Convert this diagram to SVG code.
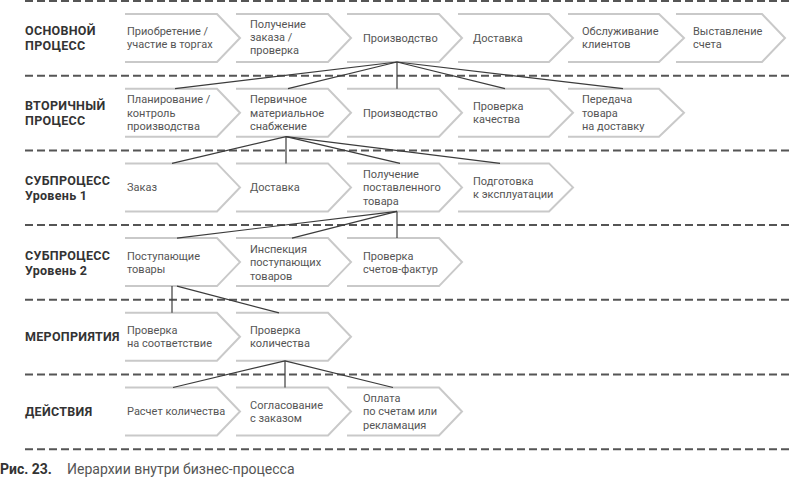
<svg xmlns="http://www.w3.org/2000/svg" width="790" height="483" viewBox="0 0 790 483">
<style>
.bg{fill:#ffffff}
.sep{stroke:#555555;stroke-width:2;stroke-dasharray:8 4;fill:none}
.chev{fill:none;stroke:#c9c9c9;stroke-width:2;stroke-linejoin:miter}
.t{font-family:Roboto,"Liberation Sans",sans-serif;font-size:11px;fill:#555555}
.lbl{font-family:Roboto,"Liberation Sans",sans-serif;font-size:12.5px;font-weight:bold;fill:#333333;letter-spacing:0.3px}
.con line{stroke:#3c3c3c;stroke-width:1.2}
.cap{font-family:Roboto,"Liberation Sans",sans-serif;font-size:14px;fill:#555555}
.capb{font-family:Roboto,"Liberation Sans",sans-serif;font-size:14px;font-weight:bold;fill:#333333}
</style>
<rect class="bg" x="0" y="0" width="790" height="483"/>
<g id="separators">
<line class="sep" x1="25" y1="1" x2="790" y2="1"/>
<line class="sep" x1="25" y1="75.7" x2="790" y2="75.7"/>
<line class="sep" x1="25" y1="150.4" x2="790" y2="150.4"/>
<line class="sep" x1="25" y1="225.1" x2="790" y2="225.1"/>
<line class="sep" x1="25" y1="299.8" x2="790" y2="299.8"/>
<line class="sep" x1="25" y1="374.5" x2="790" y2="374.5"/>
<line class="sep" x1="25" y1="449.2" x2="790" y2="449.2"/>
</g>
<g id="row-labels">
<text class="lbl" x="25" y="35">ОСНОВНОЙ</text>
<text class="lbl" x="25" y="50">ПРОЦЕСС</text>
<text class="lbl" x="25" y="110">ВТОРИЧНЫЙ</text>
<text class="lbl" x="25" y="125">ПРОЦЕСС</text>
<text class="lbl" x="25" y="185">СУБПРОЦЕСС</text>
<text class="lbl" x="25" y="200">Уровень 1</text>
<text class="lbl" x="25" y="260">СУБПРОЦЕСС</text>
<text class="lbl" x="25" y="275">Уровень 2</text>
<text class="lbl" x="25" y="341">МЕРОПРИЯТИЯ</text>
<text class="lbl" x="25" y="416">ДЕЙСТВИЯ</text>
</g>
<!-- Row 1: top 14, bottom 62, mid 38 -->
<g id="n1-1"><path class="chev" d="M125 14H217L240 38L217 62H125"/><text class="t" x="127" y="35">Приобретение /</text><text class="t" x="127" y="48">участие в торгах</text></g>
<g id="n1-2"><path class="chev" d="M236 14H328L351 38L328 62H236"/><text class="t" x="250" y="28">Получение</text><text class="t" x="250" y="41">заказа /</text><text class="t" x="250" y="54">проверка</text></g>
<g id="n1-3"><path class="chev" d="M347 14H439L462 38L439 62H347"/><text class="t" x="363" y="41.5">Производство</text></g>
<g id="n1-4"><path class="chev" d="M458 14H549L573 38L549 62H458"/><text class="t" x="473" y="41.5">Доставка</text></g>
<g id="n1-5"><path class="chev" d="M568 14H659L684 38L659 62H568"/><text class="t" x="582" y="35">Обслуживание</text><text class="t" x="582" y="48">клиентов</text></g>
<g id="n1-6"><path class="chev" d="M676 14H762L785 38L762 62H676"/><text class="t" x="693" y="35">Выставление</text><text class="t" x="693" y="48">счета</text></g>
<!-- Row 2: top 88.7, bottom 136.7, mid 112.7 -->
<g id="n2-1"><path class="chev" d="M125 88.7H217L240 112.7L217 136.7H125"/><text class="t" x="127" y="103">Планирование /</text><text class="t" x="127" y="116.5">контроль</text><text class="t" x="127" y="130">производства</text></g>
<g id="n2-2"><path class="chev" d="M236 88.7H328L351 112.7L328 136.7H236"/><text class="t" x="250" y="103">Первичное</text><text class="t" x="250" y="116.5">материальное</text><text class="t" x="250" y="130">снабжение</text></g>
<g id="n2-3"><path class="chev" d="M347 88.7H439L462 112.7L439 136.7H347"/><text class="t" x="363" y="116.5">Производство</text></g>
<g id="n2-4"><path class="chev" d="M458 88.7H549L573 112.7L549 136.7H458"/><text class="t" x="473" y="110">Проверка</text><text class="t" x="473" y="123">качества</text></g>
<g id="n2-5"><path class="chev" d="M568 88.7H659L684 112.7L659 136.7H568"/><text class="t" x="582" y="103">Передача</text><text class="t" x="582" y="116.5">товара</text><text class="t" x="582" y="130">на доставку</text></g>
<!-- Row 3: top 163.4, bottom 211.4, mid 187.4 -->
<g id="n3-1"><path class="chev" d="M125 163.4H217L240 187.4L217 211.4H125"/><text class="t" x="127" y="191">Заказ</text></g>
<g id="n3-2"><path class="chev" d="M236 163.4H328L351 187.4L328 211.4H236"/><text class="t" x="250" y="191">Доставка</text></g>
<g id="n3-3"><path class="chev" d="M347 163.4H439L462 187.4L439 211.4H347"/><text class="t" x="363" y="177.5">Получение</text><text class="t" x="363" y="191">поставленного</text><text class="t" x="363" y="204.5">товара</text></g>
<g id="n3-4"><path class="chev" d="M458 163.4H549L573 187.4L549 211.4H458"/><text class="t" x="473" y="184.5">Подготовка</text><text class="t" x="473" y="197.5">к эксплуатации</text></g>
<!-- Row 4: top 238.1, bottom 286.1, mid 262.1 -->
<g id="n4-1"><path class="chev" d="M125 238.1H217L240 262.1L217 286.1H125"/><text class="t" x="127" y="259.5">Поступающие</text><text class="t" x="127" y="272.5">товары</text></g>
<g id="n4-2"><path class="chev" d="M236 238.1H328L351 262.1L328 286.1H236"/><text class="t" x="250" y="252.5">Инспекция</text><text class="t" x="250" y="266">поступающих</text><text class="t" x="250" y="279.5">товаров</text></g>
<g id="n4-3"><path class="chev" d="M347 238.1H439L462 262.1L439 286.1H347"/><text class="t" x="363" y="259.5">Проверка</text><text class="t" x="363" y="272.5">счетов-фактур</text></g>
<!-- Row 5: top 312.8, bottom 360.8, mid 336.8 -->
<g id="n5-1"><path class="chev" d="M125 312.8H217L240 336.8L217 360.8H125"/><text class="t" x="127" y="334">Проверка</text><text class="t" x="127" y="347">на соответствие</text></g>
<g id="n5-2"><path class="chev" d="M236 312.8H328L351 336.8L328 360.8H236"/><text class="t" x="250" y="334">Проверка</text><text class="t" x="250" y="347">количества</text></g>
<!-- Row 6: top 387.5, bottom 435.5, mid 411.5 -->
<g id="n6-1"><path class="chev" d="M125 387.5H217L240 411.5L217 435.5H125"/><text class="t" x="127" y="415">Расчет количества</text></g>
<g id="n6-2"><path class="chev" d="M236 387.5H328L351 411.5L328 435.5H236"/><text class="t" x="250" y="408.5">Согласование</text><text class="t" x="250" y="421.5">с заказом</text></g>
<g id="n6-3"><path class="chev" d="M347 387.5H439L462 411.5L439 435.5H347"/><text class="t" x="363" y="401.5">Оплата</text><text class="t" x="363" y="415">по счетам или</text><text class="t" x="363" y="428.5">рекламация</text></g>
<g id="connectors" class="con">
<line x1="397" y1="62" x2="175" y2="88.7"/>
<line x1="397" y1="62" x2="288" y2="88.7"/>
<line x1="397" y1="62" x2="397" y2="88.7"/>
<line x1="397" y1="62" x2="505" y2="88.7"/>
<line x1="397" y1="62" x2="623" y2="88.7"/>
<line x1="286" y1="136.7" x2="172" y2="163.4"/>
<line x1="286" y1="136.7" x2="286" y2="163.4"/>
<line x1="286" y1="136.7" x2="400" y2="163.4"/>
<line x1="286" y1="136.7" x2="500" y2="163.4"/>
<line x1="397" y1="211.4" x2="177" y2="238.1"/>
<line x1="397" y1="211.4" x2="292" y2="238.1"/>
<line x1="397" y1="211.4" x2="397" y2="238.1"/>
<line x1="172" y1="286.1" x2="172" y2="312.8"/>
<line x1="177" y1="286.1" x2="279" y2="312.8"/>
<line x1="285" y1="360.8" x2="173" y2="387.5"/>
<line x1="285" y1="360.8" x2="285" y2="387.5"/>
<line x1="285" y1="360.8" x2="393" y2="387.5"/>
</g>
<g id="caption">
<text class="capb" x="0" y="474">Рис. 23.</text>
<text class="cap" x="67" y="474">Иерархии внутри бизнес-процесса</text>
</g>
</svg>
